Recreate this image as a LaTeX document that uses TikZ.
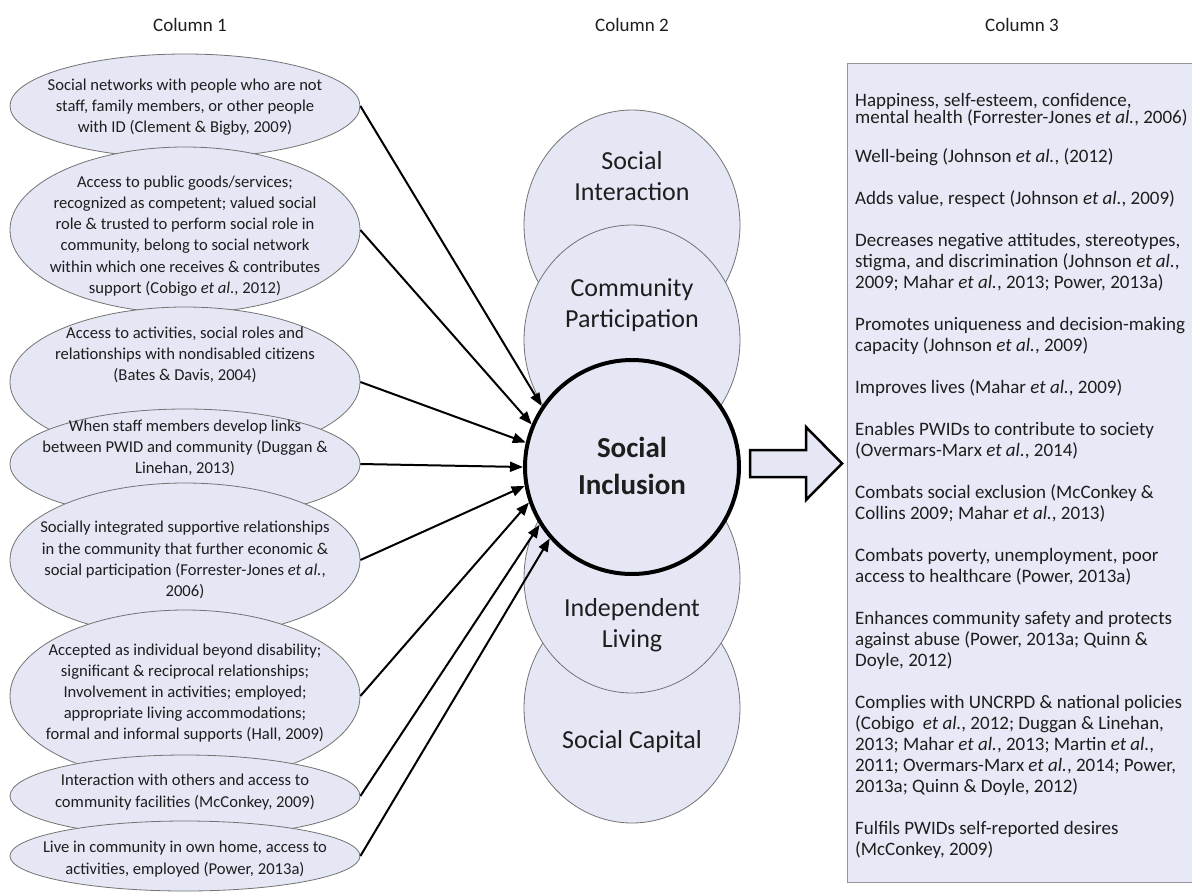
\documentclass[tikz,border=0pt]{standalone}
\usepackage{fontspec}
\setmainfont{Carlito}
\usetikzlibrary{shapes.geometric,arrows.meta}
\definecolor{lav}{RGB}{229,231,245}
\definecolor{lavbox}{RGB}{232,233,246}
\definecolor{edgegray}{RGB}{115,115,115}
\definecolor{boxgray}{RGB}{150,150,150}
\definecolor{txt}{RGB}{30,30,30}
\begin{document}
\begin{tikzpicture}[x=1pt,y=-1pt,
  c1ell/.style={ellipse, draw=edgegray, fill=lav, line width=0.8pt, minimum width=350pt, minimum height=#1, inner sep=0pt},
  c1txt/.style={align=center, text=txt, font=\fontsize{16.6}{21.2}\selectfont, inner sep=0pt},
  c2ell/.style={ellipse, draw=edgegray, fill=lav, line width=0.8pt, minimum width=216pt, minimum height=230pt, inner sep=0pt},
  c2txt/.style={align=center, text=txt, font=\fontsize{26}{31}\selectfont, inner sep=0pt},
  headtxt/.style={text=txt, font=\fontsize{19}{23}\selectfont, inner sep=0pt},
  inarrow/.style={-{Triangle[length=13pt,width=10pt]}, line width=2pt, black}
]
\useasboundingbox (0,0) rectangle (1192,895);
\fill[white] (0,0) rectangle (1192,895);

% headers
\node[headtxt] (h1) at (190,25) {Column 1};
\node[headtxt] (h2) at (632,25) {Column 2};
\node[headtxt] (h3) at (1022,25) {Column 3};

% column 1
\node[c1ell=104pt] (e1) at (185,106) {};
\node[c1txt] (t1) at (185,107) {Social networks with people who are not\\staff, family members, or other people\\with ID (Clement \& Bigby, 2009)};
\node[c1ell=166pt] (e2) at (185,230) {};
\node[c1txt] (t2) at (185,236) {Access to public goods/services;\\recognized as competent; valued social\\role \& trusted to perform social role in\\community, belong to social network\\within which one receives \& contributes\\support (Cobigo \textit{et al.}, 2012)};
\node[c1ell=150pt] (e3) at (185,382) {};
\node[c1txt] (t3) at (185,355) {Access to activities, social roles and\\relationships with nondisabled citizens\\(Bates \& Davis, 2004)};
\node[c1ell=110pt] (e4) at (185,464) {};
\node[c1txt] (t4) at (185,448) {When staff members develop links\\between PWID and community (Duggan \&\\Linehan, 2013)};
\node[c1ell=154pt] (e5) at (185,560) {};
\node[c1txt] (t5) at (185,560) {Socially integrated supportive relationships\\in the community that further economic \&\\social participation (Forrester-Jones \textit{et al.},\\2006)};
\node[c1ell=172pt] (e6) at (185,696) {};
\node[c1txt] (t6) at (185,693) {Accepted as individual beyond disability;\\significant \& reciprocal relationships;\\Involvement in activities; employed;\\appropriate living accommodations;\\formal and informal supports (Hall, 2009)};
\node[c1ell=82pt] (e7) at (185,796) {};
\node[c1txt] (t7) at (185,792) {Interaction with others and access to\\community facilities (McConkey, 2009)};
\node[c1ell=70pt] (e8) at (185,856) {};
\node[c1txt] (t8) at (185,859) {Live in community in own home, access to\\activities, employed (Power, 2013a)};

% column 2
\node[c2ell] (sint) at (632,225) {};
\node[c2txt] (sintt) at (632,176) {Social\\Interaction};
\node[c2ell] (cp) at (632,340) {};
\node[c2txt] (cpt) at (632,305) {Community\\Participation};
\node[c2ell] (sc) at (632,708) {};
\node[c2txt] (sct) at (632,742) {Social Capital};
\node[c2ell] (il) at (632,578) {};
\node[c2txt] (ilt) at (632,625) {Independent\\Living};
\node[circle, draw=black, line width=4pt, fill=lav, minimum size=214pt, inner sep=0pt] (si) at (632,467) {};
\node[align=center, text=txt, font=\bfseries\fontsize{29}{37}\selectfont, inner sep=0pt] (sit) at (632,466) {Social\\Inclusion};

% arrows into social inclusion
\draw[inarrow] (e1.east) -- (si.146);
\draw[inarrow] (e2.east) -- (si.157);
\draw[inarrow] (e3.east) -- (si.167);
\draw[inarrow] (e4.east) -- (si.180);
\draw[inarrow] (e5.east) -- (si.190);
\draw[inarrow] (e6.east) -- (si.199);
\draw[inarrow] (e7.east) -- (si.212);
\draw[inarrow] (e8.east) -- (si.221);

% column 3 box
\node[draw=boxgray, fill=lavbox, line width=1.3pt, anchor=north west, minimum width=348pt, minimum height=819pt, inner sep=0pt] (box) at (847,63) {};
\node[anchor=north west, align=left, text=txt, font=\fontsize{19}{21}\selectfont, inner sep=0pt] (c3t) at (855,93) {Happiness, self-esteem, confidence,\\[-4pt]
mental health (Forrester-Jones \textit{et al.}, 2006)\\[18pt]
Well-being (Johnson \textit{et al.}, (2012)\\[21pt]
Adds value, respect (Johnson \textit{et al.}, 2009)\\[21pt]
Decreases negative attitudes, stereotypes,\\
stigma, and discrimination (Johnson \textit{et al.},\\
2009; Mahar \textit{et al.}, 2013; Power, 2013a)\\[21pt]
Promotes uniqueness and decision-making\\
capacity (Johnson \textit{et al.}, 2009)\\[21pt]
Improves lives (Mahar \textit{et al.}, 2009)\\[21pt]
Enables PWIDs to contribute to society\\
(Overmars-Marx \textit{et al.}, 2014)\\[21pt]
Combats social exclusion (McConkey \&\\
Collins 2009; Mahar \textit{et al.}, 2013)\\[21pt]
Combats poverty, unemployment, poor\\
access to healthcare (Power, 2013a)\\[21pt]
Enhances community safety and protects\\
against abuse (Power, 2013a; Quinn \&\\
Doyle, 2012)\\[21pt]
Complies with UNCRPD \& national policies\\
(Cobigo\ \ \textit{et al.}, 2012; Duggan \& Linehan,\\
2013; Mahar \textit{et al.}, 2013; Martin \textit{et al.},\\
2011; Overmars-Marx \textit{et al.}, 2014; Power,\\
2013a; Quinn \& Doyle, 2012)\\[21pt]
Fulfils PWIDs self-reported desires\\
(McConkey, 2009)};

% big outlined arrow
\draw[line width=2.5pt, black, fill=lav, line join=miter] (750,450) -- (806,450) -- (806,427) -- (842,463.5) -- (806,500) -- (806,477) -- (750,477) -- cycle;
\end{tikzpicture}
\end{document}
